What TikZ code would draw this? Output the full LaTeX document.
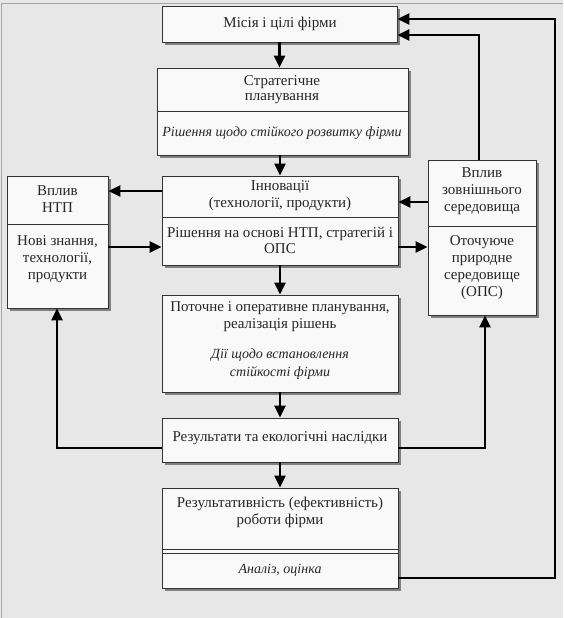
\documentclass[tikz,border=0pt]{standalone}
\usepackage{fontspec}
\setmainfont{Liberation Serif}
\usetikzlibrary{arrows.meta,shadows}
\begin{document}
\begin{tikzpicture}[x=1pt,y=-1pt,
  box/.style={draw=black!80, line width=0.9pt, fill=gray!5, inner sep=0pt,
    drop shadow={shadow xshift=3pt, shadow yshift=-3pt, fill=black!50, opacity=1}},
  txt/.style={align=center, inner sep=0pt, text=black!85, font=\fontsize{15}{17}\selectfont},
  itxt/.style={align=center, inner sep=0pt, text=black!85, font=\fontsize{14}{18}\selectfont\itshape},
  arr/.style={line width=2.4pt, -{Triangle[length=12pt,width=11pt]}},
  sepline/.style={draw=black!80, line width=0.8pt},
]
% background and frame
\fill[gray!19] (0,0) rectangle (563,618);
\useasboundingbox (0,0) rectangle (563,618);
\draw[gray!70, line width=0.8pt] (1.5,618) -- (1.5,3) -- (563,3);

% boxes
\node[box, minimum width=235pt, minimum height=36pt] (b1) at (279.5,24) {};
\node[box, minimum width=251pt, minimum height=87pt] (b2) at (282.5,111.5) {};
\node[box, minimum width=236pt, minimum height=89pt] (b3) at (280,220.5) {};
\node[box, minimum width=101pt, minimum height=132pt] (ln) at (57.5,242) {};
\node[box, minimum width=108pt, minimum height=155pt] (rn) at (482,237.5) {};
\node[box, minimum width=236pt, minimum height=97pt] (b4) at (280,343.5) {};
\node[box, minimum width=236pt, minimum height=44pt] (b5) at (280,440) {};
\node[box, minimum width=236pt, minimum height=100pt] (b6) at (280,538) {};

% level coordinates
\coordinate (y111) at (0,111);
\coordinate (y217) at (0,217);
\coordinate (y224) at (0,224);
\coordinate (y226) at (0,226);
\coordinate (y549) at (0,549);
\coordinate (y553) at (0,553);
\coordinate (y191) at (0,191);
\coordinate (y202) at (0,202);
\coordinate (y247) at (0,247);
\coordinate (y448) at (0,448);
\coordinate (y578) at (0,578);
\coordinate (y19) at (0,19);
\coordinate (y35) at (0,35);
\coordinate (x485) at (485,0);
\coordinate (x555) at (555,0);
\coordinate (x479) at (479,0);
\coordinate (x57) at (57,0);

% dividers
\draw[sepline] (b2.west |- y111) -- (b2.east |- y111);
\draw[sepline] (b3.west |- y217) -- (b3.east |- y217);
\draw[sepline] (ln.west |- y224) -- (ln.east |- y224);
\draw[sepline] (rn.west |- y226) -- (rn.east |- y226);
\draw[sepline] (b6.west |- y549) -- (b6.east |- y549);
\draw[sepline] (b6.west |- y553) -- (b6.east |- y553);

% texts
\node[txt] (t1) at (280,24) {Місія і цілі фірми};
\node[txt, font=\fontsize{15}{15}\selectfont] (t2a) at (282,90) {Стратегічне\\планування};
\node[itxt] (t2b) at (282,133) {Рішення щодо стійкого розвитку фірми};
\node[txt] (t3a) at (280,196) {Інновації\\(технології, продукти)};
\node[txt, font=\fontsize{15}{16}\selectfont] (t3b) at (280,240) {Рішення на основі НТП, стратегій і\\ОПС};
\node[txt] (tla) at (57.5,199) {Вплив\\НТП};
\node[txt] (tlb) at (57.5,259) {Нові знання,\\технології,\\продукти};
\node[txt] (tra) at (482,191) {Вплив\\зовнішнього\\середовища};
\node[txt] (trb) at (482,268) {Оточуюче\\природне\\середовище\\(ОПС)};
\node[txt] (t4a) at (280,316.5) {Поточне і оперативне планування,\\реалізація рішень};
\node[itxt] (t4b) at (280,364) {Дії щодо встановлення\\стійкості фірми};
\node[txt] (t5) at (280,438) {Результати та екологічні наслідки};
\node[txt] (t6a) at (280,512) {Результативність (ефективність)\\роботи фірми};
\node[itxt] (t6b) at (280,570) {Аналіз, оцінка};

% vertical flow
\draw[arr] (b1.south) -- (b1.south |- b2.north);
\draw[arr] (b2.south -| b3.north) -- (b3.north);
\draw[arr] (b3.south) -- (b4.north);
\draw[arr] (b4.south) -- (b5.north);
\draw[arr] (b5.south) -- (b6.north);

% side links
\draw[arr] (b3.west |- y191) -- (ln.east |- y191);
\draw[arr] (ln.east |- y247) -- (b3.west |- y247);
\draw[arr] (rn.west |- y202) -- (b3.east |- y202);
\draw[arr] (b3.east |- y247) -- (rn.west |- y247);

% feedback from results
\draw[arr] (b5.west |- y448) -| (x57 |- ln.south);
\draw[arr] (b5.east |- y448) -| (x485 |- rn.south);

% feedback to mission
\draw[arr] (b6.east |- y578) -| (x555 |- y19) -- (b1.east |- y19);
\draw[arr] (x479 |- rn.north) |- (b1.east |- y35);
\end{tikzpicture}
\end{document}
